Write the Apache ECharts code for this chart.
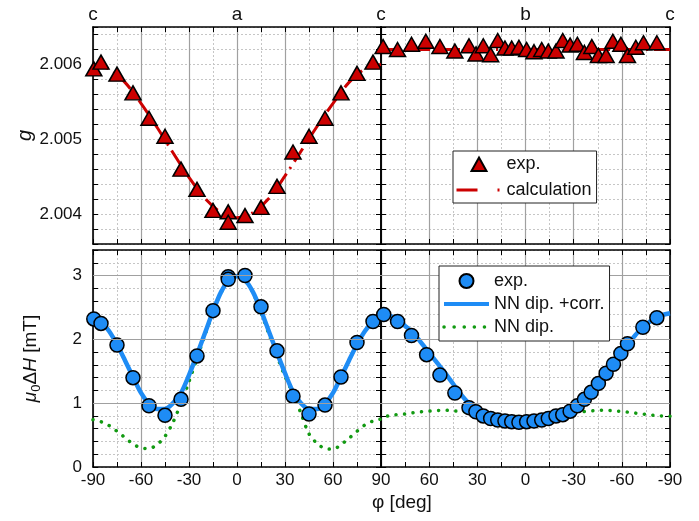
<!DOCTYPE html>
<html>
<head>
<meta charset="utf-8">
<title>g-factor and ESR linewidth vs. rotation angle</title>
<script src="https://cdn.jsdelivr.net/npm/echarts@6/dist/echarts.min.js"></script>
<style>
  html, body { margin: 0; padding: 0; background: #fff; }
  #chart { width: 699px; height: 521px; }
</style>
</head>
<body>
<div id="chart"></div>
<script>
// Rotation c -> a -> c (left column) and c -> b -> c (right column).
// Angles in degrees; g is dimensionless, linewidth in mT.

// ---- g-factor, ac rotation ----
const phiG_ac = [-89.5, -85, -75, -65, -55, -45, -35, -25, -15, -5.5, -5.5, 5, 15, 25, 35, 45, 55, 65, 75, 85];
const g_ac = [2.00594, 2.00603, 2.00587, 2.00562, 2.00528, 2.00504, 2.00460, 2.00433, 2.00405, 2.00403,
              2.00389, 2.00398, 2.00409, 2.00437, 2.00483, 2.00504, 2.00528, 2.00562, 2.00588, 2.00603];
const phiCalc_ac = [-90, -80, -70, -60, -50, -40, -30, -20, -10, 0, 10, 20, 30, 40, 50, 60, 70, 80, 90];
const gCalc_ac = [2.00600, 2.00594, 2.00576, 2.00548, 2.00516, 2.00482, 2.00449, 2.00421, 2.00402, 2.00395,
                  2.00402, 2.00421, 2.00451, 2.00484, 2.00517, 2.00548, 2.00576, 2.00594, 2.00600];

// ---- g-factor, bc rotation ----
const phiG_bc = [88.7, 79.7, 71, 62.1, 53.3, 44, 35.2, 30.8, 26.3, 21.7, 17.3, 12.8, 8.6, 4.1, -0.7, -5.3,
                 -10.1, -14.2, -19, -23.2, -27.8, -32.3, -36.7, -41.3, -45.4, -50.2, -54.4, -59.4, -63.5, -68.7, -73.5, -81.8];
const g_bc = [2.00624, 2.00620, 2.00627, 2.00631, 2.00624, 2.00618, 2.00625, 2.00614, 2.00625, 2.00613, 2.00632,
              2.00622, 2.00622, 2.00623, 2.00620, 2.00617, 2.00620, 2.00618, 2.00618, 2.00632, 2.00626, 2.00627,
              2.00616, 2.00624, 2.00612, 2.00612, 2.00631, 2.00627, 2.00612, 2.00623, 2.00629, 2.00629];
const phiCalc_bc = [-90, 90];
const gCalc_bc = [2.00620, 2.00620];

// ---- linewidth, ac rotation ----
const phiH_ac = [-89.5, -85, -75, -65, -55, -45, -35, -25, -15, -5.5, -5.5, 5, 15, 25, 35, 45, 55, 65, 75, 85];
const dH_ac = [2.32, 2.25, 1.91, 1.40, 0.96, 0.81, 1.06, 1.74, 2.45, 2.98, 2.94, 3.00, 2.51, 1.82, 1.11, 0.83, 0.97, 1.41, 1.95, 2.28];

// model curves share one angle grid
const phiFit = [-90, -85, -80, -75, -70, -65, -60, -55, -50, -45, -40, -35, -30, -25, -20, -15, -10, -5, 0,
                5, 10, 15, 20, 25, 30, 35, 40, 45, 50, 55, 60, 65, 70, 75, 80, 85, 90];
const dHCorr_ac = [2.36, 2.28, 2.13, 1.92, 1.67, 1.41, 1.16, 0.99, 0.91, 0.91, 1.00, 1.16, 1.44, 1.76, 2.10, 2.44, 2.74, 2.93, 2.99,
                   2.93, 2.74, 2.45, 2.12, 1.79, 1.47, 1.18, 1.00, 0.91, 0.91, 0.99, 1.16, 1.41, 1.67, 1.92, 2.13, 2.28, 2.36];
const dHDip_ac = [0.74, 0.71, 0.65, 0.56, 0.46, 0.36, 0.30, 0.29, 0.35, 0.48, 0.70, 1.00, 1.34, 1.70, 2.07, 2.42, 2.73, 2.92, 2.98,
                  2.92, 2.73, 2.42, 2.08, 1.74, 1.42, 1.15, 0.84, 0.52, 0.37, 0.29, 0.28, 0.35, 0.45, 0.56, 0.66, 0.72, 0.75];

// ---- linewidth, bc rotation ----
const phiH_bc = [88.3, 79.7, 71, 61.6, 53.3, 44, 35.2, 30.9, 26.3, 21.7, 17.3, 12.8, 8.6, 4.1, -0.7, -5.3, -10.1, -14.2,
                 -19, -23.2, -27.8, -32.3, -36.7, -40.9, -45.4, -50.2, -54.8, -59.4, -63.5, -73.1, -81.8];
const dH_bc = [2.39, 2.28, 2.06, 1.76, 1.44, 1.16, 0.93, 0.865, 0.80, 0.76, 0.735, 0.72, 0.71, 0.70, 0.71, 0.72, 0.735, 0.76,
               0.80, 0.82, 0.875, 0.96, 1.06, 1.17, 1.31, 1.47, 1.61, 1.78, 1.93, 2.19, 2.34];
const dHCorr_bc = [2.41, 2.38, 2.32, 2.23, 2.11, 1.96, 1.80, 1.63, 1.46, 1.29, 1.14, 1.01, 0.91, 0.84, 0.785, 0.75, 0.725, 0.71, 0.70,
                   0.70, 0.715, 0.735, 0.765, 0.81, 0.89, 0.99, 1.13, 1.30, 1.47, 1.63, 1.79, 1.95, 2.10, 2.21, 2.31, 2.38, 2.41];
const dHDip_bc = [0.795, 0.80, 0.81, 0.825, 0.84, 0.855, 0.87, 0.88, 0.89, 0.89, 0.875, 0.865, 0.85, 0.84, 0.825, 0.81, 0.80, 0.79, 0.785,
                  0.79, 0.80, 0.81, 0.825, 0.84, 0.85, 0.86, 0.87, 0.88, 0.89, 0.885, 0.875, 0.865, 0.85, 0.83, 0.82, 0.80, 0.79];

// ---- axis ticks and labels ----
const crystalTicks = [-90, 0, 90];
const crystalLabels_ac = ['c', 'a', 'c'];
const crystalLabels_bc = ['c', 'b', 'c'];
const gMajor = [2.004, 2.005, 2.006];
const dHMajor = [1, 2, 3];

const FONT = "'Liberation Sans', Arial, Helvetica, sans-serif";
const TXT = '#111';
const RED = '#cc0000';
const BLUE = '#1e8cf5';
const GREEN = '#129a12';
const MAJOR_GRID = '#a0a0a0';
const MINOR_GRID = '#c6c6c6';

// legend glyph: an upright triangle centred in a 45 x 14 icon box
const LEGEND_TRIANGLE = 'path://M0,0 M45,14 M15,14 L22.5,0.5 L30,14 Z';

const pairs = (xs, ys) => xs.map((x, i) => [x, ys[i]]);

const grids = [
  { left: 93,  top: 27,  width: 288, height: 217 },  // g, ac
  { left: 381, top: 27,  width: 289, height: 217 },  // g, bc
  { left: 93,  top: 250, width: 288, height: 217 },  // linewidth, ac
  { left: 381, top: 250, width: 289, height: 217 }   // linewidth, bc
];

const tickStyle = { show: true, inside: true, length: 5, lineStyle: { color: '#000', width: 1 } };
const frameLine = { show: true, onZero: false, lineStyle: { color: '#000', width: 1.6 } };

function xAxisFor(gi, position, extra) {
  return Object.assign({
    type: 'value', gridIndex: gi, position: position,
    min: -90, max: 90, interval: 30, inverse: gi % 2 === 1,
    axisLine: frameLine,
    axisTick: tickStyle,
    minorTick: { show: true, splitNumber: 2, length: 5, lineStyle: { color: '#000', width: 1 } },
    axisLabel: { show: false },
    splitLine: { show: false },
    minorSplitLine: { show: false }
  }, extra || {});
}

function yAxisFor(gi, position, range, extra) {
  return Object.assign({
    type: 'value', gridIndex: gi, position: position,
    min: range[0], max: range[1], interval: range[2],
    axisLine: frameLine,
    axisTick: tickStyle,
    axisLabel: { show: false },
    splitLine: { show: false }
  }, extra || {});
}

const gRange = [2.0036, 2.0065, 0.0002];
const hRange = [0, 3.4, 0.2];

const bottomLabel = (hideNinety) => ({
  show: true, margin: 5, color: TXT, fontSize: 17, fontFamily: FONT,
  formatter: v => (hideNinety && Math.round(v) === 90) ? '' : String(Math.round(v))
});
const topLabel = (labels, skipLeft) => ({
  show: true, margin: 3, color: TXT, fontSize: 19, fontFamily: FONT,
  formatter: v => {
    const k = crystalTicks.indexOf(Math.round(v));
    if (k < 0) return '';
    if (skipLeft && Math.round(v) === 90) return '';
    return labels[k];
  }
});
const gridLinesX = {
  splitLine: { show: true, lineStyle: { color: MAJOR_GRID, width: 1.2 } },
  minorSplitLine: { show: true, lineStyle: { color: MINOR_GRID, width: 1, type: [2, 2] } }
};
const dottedY = { splitLine: { show: true, lineStyle: { color: MINOR_GRID, width: 1, type: [2, 2] } } };

const xAxes = [
  xAxisFor(0, 'bottom', gridLinesX),
  xAxisFor(1, 'bottom', gridLinesX),
  xAxisFor(2, 'bottom', Object.assign({ axisLabel: bottomLabel(false) }, gridLinesX)),
  xAxisFor(3, 'bottom', Object.assign({ axisLabel: bottomLabel(true) }, gridLinesX)),
  xAxisFor(0, 'top', { axisLabel: topLabel(crystalLabels_ac, false) }),
  xAxisFor(1, 'top', { axisLabel: topLabel(crystalLabels_bc, true) }),
  xAxisFor(2, 'top'),
  xAxisFor(3, 'top')
];

const yAxes = [
  yAxisFor(0, 'left', gRange, Object.assign({
    axisLabel: {
      show: true, margin: 11, color: TXT, fontSize: 17, fontFamily: FONT,
      formatter: v => Math.abs(v * 1000 - Math.round(v * 1000)) < 1e-6 ? v.toFixed(3) : ''
    },
    name: 'g', nameLocation: 'middle', nameRotate: 90, nameGap: 56,
    nameTextStyle: { fontSize: 20, fontStyle: 'italic', color: TXT, fontFamily: FONT }
  }, dottedY)),
  yAxisFor(1, 'left', gRange, dottedY),
  yAxisFor(2, 'left', hRange, Object.assign({
    axisLabel: {
      show: true, margin: 11, color: TXT, fontSize: 17, fontFamily: FONT,
      formatter: v => Math.abs(v - Math.round(v)) < 1e-6 ? String(Math.round(v)) : ''
    },
    name: '{it|μ}{sub|0}{n|Δ}{it|H}{n| [mT]}', nameLocation: 'middle', nameRotate: 90, nameGap: 50,
    nameTextStyle: {
      color: TXT, fontFamily: FONT, fontSize: 19,
      rich: {
        it: { fontStyle: 'italic', fontSize: 19, color: TXT, fontFamily: FONT },
        n: { fontSize: 19, color: TXT, fontFamily: FONT },
        sub: { fontSize: 13, color: TXT, fontFamily: FONT, padding: [11, 0, 0, 0] }
      }
    }
  }, dottedY)),
  yAxisFor(3, 'left', hRange, dottedY),
  yAxisFor(0, 'right', gRange),
  yAxisFor(1, 'right', gRange),
  yAxisFor(2, 'right', hRange),
  yAxisFor(3, 'right', hRange)
];

// solid horizontal lines at the labelled values
function majorLines(gi, values) {
  return {
    type: 'line', xAxisIndex: gi, yAxisIndex: gi, data: [], silent: true, z: 1,
    markLine: {
      silent: true, symbol: 'none', label: { show: false },
      lineStyle: { color: MAJOR_GRID, width: 1.2, type: 'solid' },
      emphasis: { disabled: true },
      data: values.map(v => ({ yAxis: v }))
    }
  };
}

const triangles = { symbol: 'triangle', symbolSize: [16, 14], itemStyle: { color: RED, borderColor: '#000', borderWidth: 1.5, opacity: 1 } };
const circles = { symbol: 'circle', symbolSize: 14, itemStyle: { color: BLUE, borderColor: '#000', borderWidth: 1.5, opacity: 1 } };
const calcStyle = { color: RED, width: 3, type: [16, 6, 2, 6] };
const corrStyle = { color: BLUE, width: 4.5 };
const dipStyle = { color: GREEN, width: 3.5, type: [0.1, 8.5], cap: 'round' };

const series = [
  majorLines(0, gMajor), majorLines(1, gMajor), majorLines(2, dHMajor), majorLines(3, dHMajor),

  { name: 'calculation', type: 'line', xAxisIndex: 0, yAxisIndex: 0, data: pairs(phiCalc_ac, gCalc_ac),
    smooth: 0.3, symbol: 'none', showSymbol: false, lineStyle: calcStyle, itemStyle: { color: RED }, z: 2 },
  Object.assign({ name: 'exp.', type: 'scatter', xAxisIndex: 0, yAxisIndex: 0, data: pairs(phiG_ac, g_ac), z: 3 }, triangles),

  { name: 'calculation', type: 'line', xAxisIndex: 1, yAxisIndex: 1, data: pairs(phiCalc_bc, gCalc_bc),
    symbol: 'none', showSymbol: false, lineStyle: calcStyle, itemStyle: { color: RED }, z: 2 },
  Object.assign({ name: 'exp.', type: 'scatter', xAxisIndex: 1, yAxisIndex: 1, data: pairs(phiG_bc, g_bc), z: 3 }, triangles),

  { name: 'NN dip.', type: 'line', xAxisIndex: 2, yAxisIndex: 2, data: pairs(phiFit, dHDip_ac),
    smooth: 0.3, symbol: 'none', showSymbol: false, lineStyle: dipStyle, itemStyle: { color: GREEN }, z: 2 },
  { name: 'NN dip. +corr.', type: 'line', xAxisIndex: 2, yAxisIndex: 2, data: pairs(phiFit, dHCorr_ac),
    smooth: 0.3, symbol: 'none', showSymbol: false, lineStyle: corrStyle, itemStyle: { color: BLUE }, z: 3 },
  Object.assign({ name: 'exp. ', type: 'scatter', xAxisIndex: 2, yAxisIndex: 2, data: pairs(phiH_ac, dH_ac), z: 4 }, circles),

  { name: 'NN dip.', type: 'line', xAxisIndex: 3, yAxisIndex: 3, data: pairs(phiFit, dHDip_bc),
    smooth: 0.3, symbol: 'none', showSymbol: false, lineStyle: dipStyle, itemStyle: { color: GREEN }, z: 2 },
  { name: 'NN dip. +corr.', type: 'line', xAxisIndex: 3, yAxisIndex: 3, data: pairs(phiFit, dHCorr_bc),
    smooth: 0.3, symbol: 'none', showSymbol: false, lineStyle: corrStyle, itemStyle: { color: BLUE }, z: 3 },
  Object.assign({ name: 'exp. ', type: 'scatter', xAxisIndex: 3, yAxisIndex: 3, data: pairs(phiH_bc, dH_bc), z: 4 }, circles)
];

const legendBase = {
  orient: 'vertical', itemWidth: 45, itemHeight: 14, selectedMode: false,
  borderColor: '#222', borderWidth: 1, borderRadius: 0, backgroundColor: '#fff',
  textStyle: { fontSize: 18, lineHeight: 20, color: TXT, fontFamily: FONT },
  formatter: name => name.trim(), z: 10
};

const option = {
  animation: false,
  backgroundColor: '#fff',
  grid: grids,
  xAxis: xAxes,
  yAxis: yAxes,
  legend: [
    Object.assign({}, legendBase, {
      left: 453, top: 151, itemGap: 6, padding: [3, 5, 3, 2],
      data: [
        { name: 'exp.', icon: LEGEND_TRIANGLE },
        { name: 'calculation', itemStyle: { opacity: 0 }, lineStyle: { type: [21, 20, 2, 20], width: 3 } }
      ]
    }),
    Object.assign({}, legendBase, {
      left: 439, top: 266, itemGap: 3, padding: [5, 5, 4, 3],
      data: [
        { name: 'exp. ', icon: 'circle' },
        { name: 'NN dip. +corr.', itemStyle: { opacity: 0 }, lineStyle: { width: 4 } },
        { name: 'NN dip.', itemStyle: { opacity: 0 }, lineStyle: { type: [0.1, 10], width: 3.5, cap: 'round' } }
      ]
    })
  ],
  graphic: [{
    type: 'text', left: 372, top: 493,
    style: { text: 'φ [deg]', fontSize: 19, fontFamily: FONT, fill: TXT }
  }],
  series: series
};

const chart = echarts.init(document.getElementById('chart'), null, { renderer: 'canvas' });
chart.setOption(option);
</script>
</body>
</html>
